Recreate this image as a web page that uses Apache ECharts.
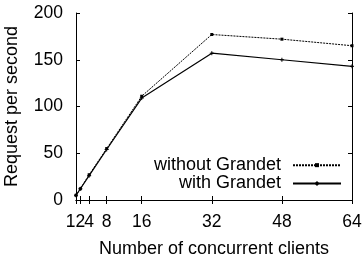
<!DOCTYPE html>
<html><head><meta charset="utf-8">
<script src="https://cdn.jsdelivr.net/npm/echarts@6/dist/echarts.min.js"></script>
<style>html,body{margin:0;padding:0;background:#fff}#c{width:364px;height:260px}</style>
</head><body><div id="c"></div>
<script>
const clients = [1, 2, 4, 8, 16, 32, 48, 64];
const withoutGrandet = [5, 12, 27, 55, 111, 177, 172, 165];
const withGrandet = [5, 12, 26, 54, 109, 157, 150, 143];
const xTicks = [1, 2, 4, 8, 16, 32, 48, 64];
const yTicks = [0, 50, 100, 150, 200];

const font = 'Liberation Sans, Arial, sans-serif';
const chart = echarts.init(document.getElementById('c'), null, {renderer: 'canvas'});
const axLine = {show: true, lineStyle: {color: '#000', width: 1}};
const tickIn = {show: true, inside: true, length: 4, lineStyle: {color: '#000'}};
const fs = 17.5;
const nfs = 18;
chart.setOption({
  animation: false,
  grid: {left: 76, right: 12, top: 13, bottom: 60, containLabel: false, outerBoundsMode: 'none'},
  xAxis: [{
    type: 'value', min: 1, max: 64, position: 'bottom',
    name: 'Number of concurrent clients', nameLocation: 'middle', nameGap: 40,
    nameTextStyle: {fontFamily: font, fontSize: nfs, color: '#000'},
    axisLine: axLine,
    axisTick: Object.assign({customValues: xTicks}, tickIn),
    axisLabel: {
      customValues: xTicks, showMinLabel: true, showMaxLabel: true, hideOverlap: false,
      fontFamily: font, fontSize: fs, color: '#000', margin: 13,
      formatter: function (v) {
        if (v === 1) return '{a|' + v + '}';
        return String(v);
      },
      rich: {
        a: {fontFamily: font, fontSize: fs, color: '#000', padding: [0, 11, 0, 0]}
      }
    },
    splitLine: {show: false}
  }, {
    type: 'value', min: 1, max: 64, position: 'top',
    axisLine: axLine,
    axisTick: Object.assign({customValues: xTicks}, tickIn),
    axisLabel: {show: false, customValues: xTicks},
    splitLine: {show: false}
  }],
  yAxis: [{
    type: 'value', min: 0, max: 200, interval: 50, position: 'left',
    name: 'Request per second', nameLocation: 'middle', nameGap: 55,
    nameTextStyle: {fontFamily: font, fontSize: nfs, color: '#000'},
    axisLine: axLine, axisTick: tickIn,
    axisLabel: {fontFamily: font, fontSize: fs, color: '#000', margin: 13},
    splitLine: {show: false}
  }, {
    type: 'value', min: 0, max: 200, interval: 50, position: 'right',
    axisLine: axLine, axisTick: tickIn,
    axisLabel: {show: false}, splitLine: {show: false}
  }],
  legend: {
    right: 22, top: 156, orient: 'vertical', align: 'right',
    itemWidth: 48, itemHeight: 5, itemGap: 0, padding: 0,
    textStyle: {fontFamily: font, fontSize: 18, color: '#000', lineHeight: 18.3, padding: [0, 7, 0, 0]},
    data: ['without Grandet', 'with Grandet']
  },
  series: [{
    name: 'without Grandet', type: 'line',
    data: clients.map((c, i) => [c, withoutGrandet[i]]),
    symbol: 'rect', symbolSize: 3, showSymbol: true,
    lineStyle: {color: '#000', width: 1, type: [2, 1]},
    itemStyle: {color: '#000'}
  }, {
    name: 'with Grandet', type: 'line',
    data: clients.map((c, i) => [c, withGrandet[i]]),
    symbol: 'path://M0,5L10,5M5,0L5,10', symbolSize: 4,
    lineStyle: {color: '#000', width: 1.2},
    itemStyle: {color: '#000', borderColor: '#000', borderWidth: 1}
  }]
});
</script></body></html>
